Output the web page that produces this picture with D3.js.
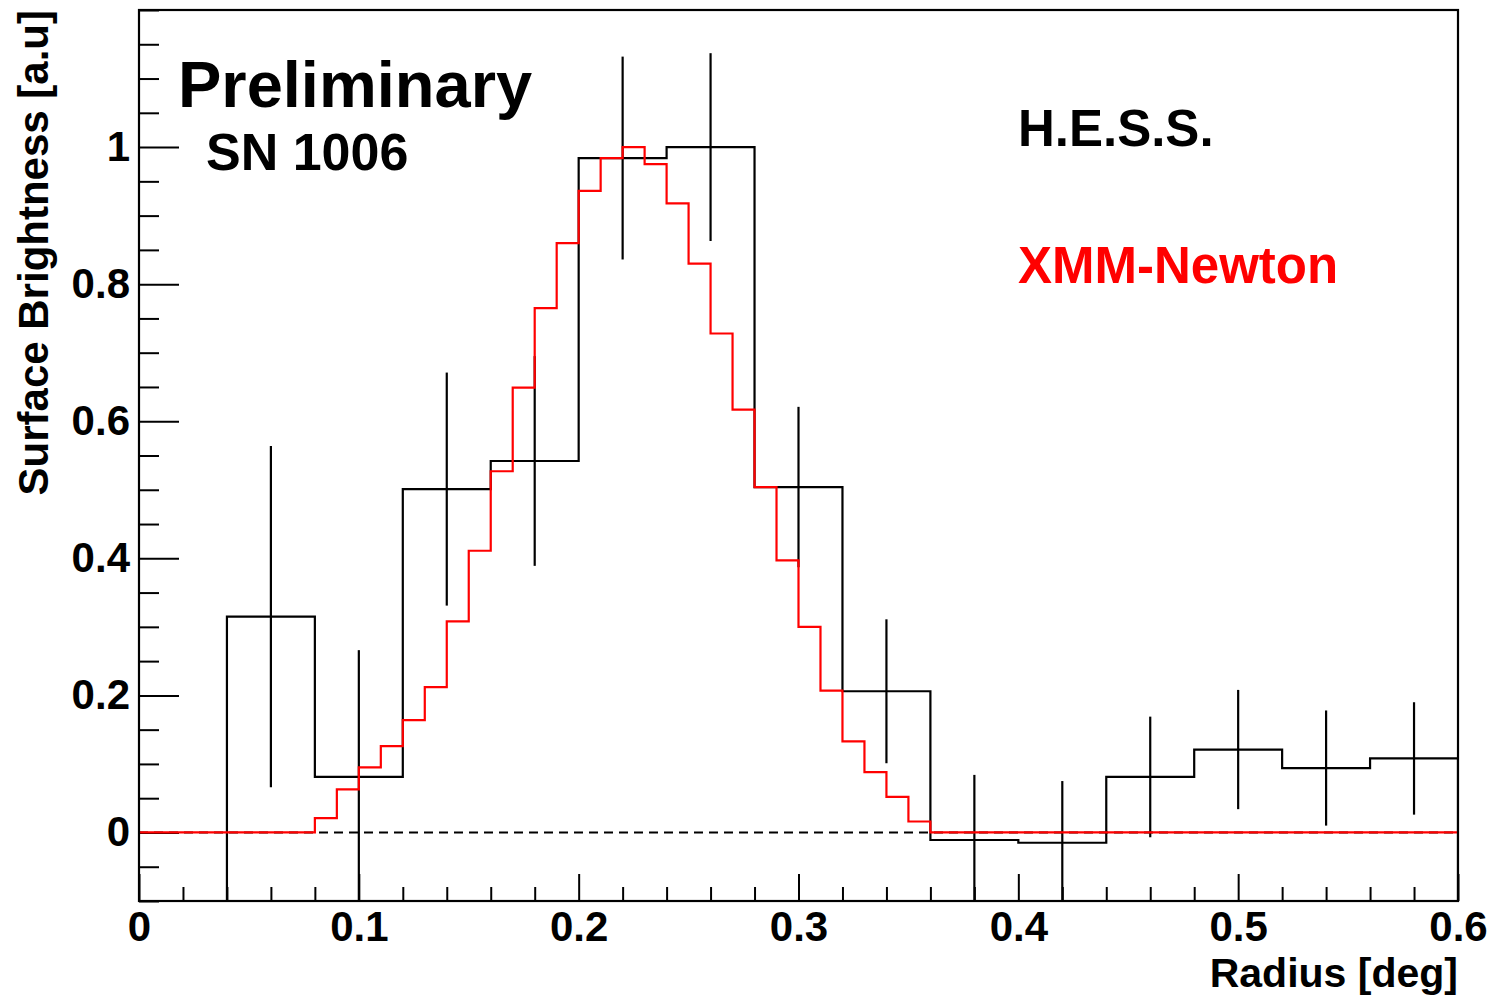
<!DOCTYPE html>
<html>
<head>
<meta charset="utf-8">
<script src="https://cdn.jsdelivr.net/npm/d3@7"></script>
<style>
  body { margin: 0; background: #fff; }
  text { font-family: "Liberation Sans", Arial, Helvetica, sans-serif; font-weight: bold; }
</style>
</head>
<body>
<script>
// H.E.S.S. radial profile (bins of 0.04 deg)
var hessBinLow = [0.04, 0.08, 0.12, 0.16, 0.20, 0.24, 0.28, 0.32, 0.36, 0.40, 0.44, 0.48, 0.52, 0.56];
var hessValues = [0.315, 0.081, 0.501, 0.542, 0.984, 1.0, 0.504, 0.206, -0.011, -0.015, 0.081, 0.121, 0.094, 0.108];
var hessErrors = [0.249, 0.185, 0.170, 0.153, 0.148, 0.137, 0.117, 0.105, 0.095, 0.090, 0.088, 0.087, 0.084, 0.082];
var hessBinWidth = 0.04;

// XMM-Newton profile (bins of 0.01 deg, 0 .. 0.6)
var xmmValues = [
  0, 0, 0, 0, 0, 0, 0, 0,
  0.021, 0.063, 0.095, 0.126, 0.164, 0.212, 0.308, 0.411, 0.527, 0.649,
  0.765, 0.860, 0.936, 0.984, 1.000, 0.975, 0.918, 0.830, 0.728, 0.617,
  0.504, 0.397, 0.300, 0.207, 0.133, 0.088, 0.052, 0.016,
  0, 0, 0, 0, 0, 0, 0, 0, 0, 0, 0, 0,
  0, 0, 0, 0, 0, 0, 0, 0, 0, 0, 0, 0
];
var xmmBinWidth = 0.01;

var xMajor = [0, 0.1, 0.2, 0.3, 0.4, 0.5, 0.6];
var yMajor = [0, 0.2, 0.4, 0.6, 0.8, 1.0];

var margin = { top: 10, right: 43, bottom: 96, left: 139 },
    width = 1501 - margin.left - margin.right,
    height = 997 - margin.top - margin.bottom;

var x = d3.scaleLinear().domain([0, 0.6]).range([0, width]);
var y = d3.scaleLinear().domain([-0.1, 1.2]).range([height, 0]);

var svg = d3.select("body").append("svg")
    .attr("width", 1501)
    .attr("height", 997)
    .append("g")
    .attr("transform", "translate(" + margin.left + "," + margin.top + ")");

svg.append("clipPath").attr("id", "clip")
    .append("rect").attr("width", width).attr("height", height);

// minor tick values
var xMinor = d3.range(0, 61, 2).map(function (i) { return i / 100; })
    .filter(function (v) { return xMajor.indexOf(v) < 0; });
var yMinor = d3.range(-2, 25).map(function (i) { return i * 0.05; })
    .filter(function (v) { return yMajor.every(function (m) { return Math.abs(m - v) > 1e-6; }); });

// x axis
var gx = svg.append("g").attr("transform", "translate(0," + height + ")");
gx.append("g").call(d3.axisBottom(x).tickValues(xMajor).tickSize(-27).tickPadding(10)
    .tickFormat(function (d) { return d === 0 ? "0" : d3.format(".1f")(d); }));
gx.append("g").call(d3.axisBottom(x).tickValues(xMinor).tickSize(-14).tickFormat(""));

// y axis
var gy = svg.append("g");
gy.append("g").call(d3.axisLeft(y).tickValues(yMajor).tickSize(-40).tickPadding(9)
    .tickFormat(function (d) { return d === 0 ? "0" : d === 1 ? "1" : d3.format(".1f")(d); }));
gy.append("g").call(d3.axisLeft(y).tickValues(yMinor).tickSize(-20).tickFormat(""));

svg.selectAll(".domain").remove();
svg.selectAll(".tick line").attr("stroke", "#000").attr("stroke-width", 2);
svg.selectAll(".tick text").attr("fill", "#000").style("font-size", "42px");

// zero line
svg.append("line")
    .attr("x1", 0).attr("x2", width)
    .attr("y1", y(0)).attr("y2", y(0))
    .attr("stroke", "#000").attr("stroke-width", 2)
    .attr("stroke-dasharray", "9,6");

var plot = svg.append("g").attr("clip-path", "url(#clip)");

var stepLine = d3.line()
    .x(function (d) { return x(d[0]); })
    .y(function (d) { return y(d[1]); })
    .curve(d3.curveStepAfter);

// H.E.S.S. histogram
var hessPts = [[hessBinLow[0], -0.1]];
hessBinLow.forEach(function (lo, i) { hessPts.push([lo, hessValues[i]]); });
var lastLo = hessBinLow[hessBinLow.length - 1];
hessPts.push([lastLo + hessBinWidth, hessValues[hessValues.length - 1]]);
hessPts.push([lastLo + hessBinWidth, -0.1]);

plot.append("path")
    .attr("d", stepLine(hessPts))
    .attr("fill", "none").attr("stroke", "#000").attr("stroke-width", 2.2);

// error bars
plot.selectAll(".err")
    .data(hessBinLow)
    .enter().append("line")
    .attr("class", "err")
    .attr("x1", function (d) { return x(d + hessBinWidth / 2); })
    .attr("x2", function (d) { return x(d + hessBinWidth / 2); })
    .attr("y1", function (d, i) { return y(hessValues[i] - hessErrors[i]); })
    .attr("y2", function (d, i) { return y(hessValues[i] + hessErrors[i]); })
    .attr("stroke", "#000").attr("stroke-width", 2.2);

// XMM-Newton histogram
var xmmPts = xmmValues.map(function (v, i) { return [i * xmmBinWidth, v]; });
xmmPts.push([xmmValues.length * xmmBinWidth, xmmValues[xmmValues.length - 1]]);

plot.append("path")
    .attr("d", stepLine(xmmPts))
    .attr("fill", "none").attr("stroke", "#ff0000").attr("stroke-width", 2.2);

// frame
svg.append("rect")
    .attr("width", width).attr("height", height)
    .attr("fill", "none").attr("stroke", "#000").attr("stroke-width", 2.2);

// axis titles
svg.append("text")
    .attr("x", width).attr("y", height + 86)
    .attr("text-anchor", "end")
    .style("font-size", "41px")
    .text("Radius [deg]");

svg.append("text")
    .attr("transform", "translate(" + (48 - margin.left) + ",0) rotate(-90)")
    .attr("text-anchor", "end")
    .style("font-size", "42px")
    .text("Surface Brightness [a.u]");

// labels
svg.append("text").attr("x", 178 - margin.left).attr("y", 107 - margin.top)
    .style("font-size", "65px").text("Preliminary");
svg.append("text").attr("x", 206 - margin.left).attr("y", 170 - margin.top)
    .style("font-size", "52px").text("SN 1006");
svg.append("text").attr("x", 1018 - margin.left).attr("y", 146 - margin.top)
    .style("font-size", "51px").text("H.E.S.S.");
svg.append("text").attr("x", 1018 - margin.left).attr("y", 283 - margin.top)
    .style("font-size", "51px").attr("fill", "#ff0000").text("XMM-Newton");
</script>
</body>
</html>
